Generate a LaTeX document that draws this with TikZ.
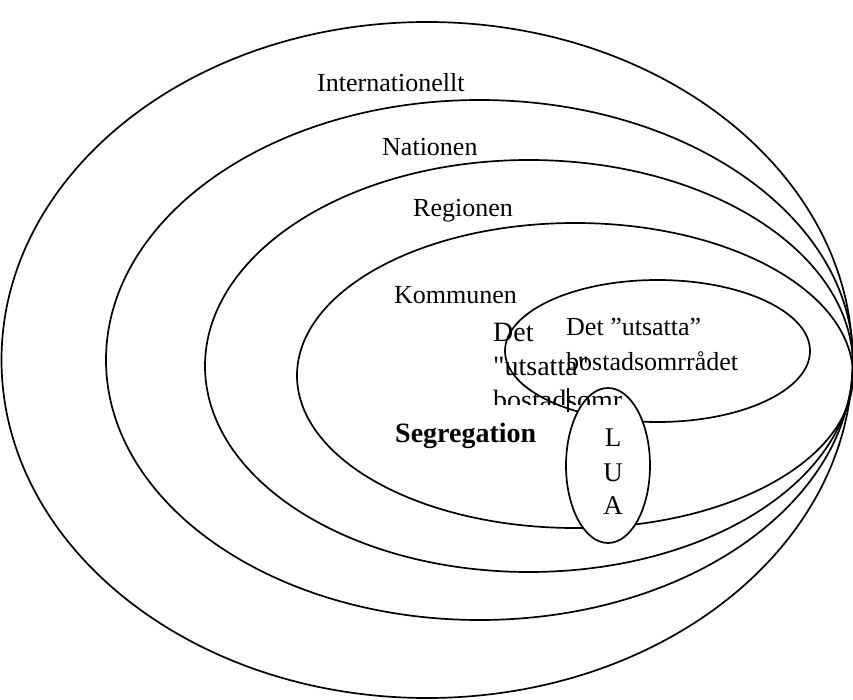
\documentclass[tikz,border=0pt]{standalone}
\usepackage{fontspec}
\setmainfont{Liberation Serif}
\newfontfamily\ovfont{Liberation Serif}[Ligatures=TeXOff]
\begin{document}
\begin{tikzpicture}[x=1pt,y=-1pt,
  ring/.style={draw=black,line width=1.7pt},
  lbl/.style={inner sep=0pt,anchor=base west,font=\fontsize{26}{30}\selectfont},
  lblb/.style={inner sep=0pt,anchor=base west,font=\fontsize{28}{32}\selectfont\bfseries},
  lbll/.style={inner sep=0pt,anchor=base,font=\fontsize{27}{30}\selectfont},
  lblo/.style={inner sep=0pt,anchor=base west,font=\ovfont\fontsize{28}{32}\selectfont}]
\useasboundingbox (0,0) rectangle (853,700);
% rings
\draw[ring] (427,360) ellipse [x radius=425.5pt, y radius=338pt];
\draw[ring] (479.5,360) ellipse [x radius=373.5pt, y radius=260pt];
\draw[ring] (529,366) ellipse [x radius=324pt, y radius=206pt];
\draw[ring] (575,375.5) ellipse [x radius=278pt, y radius=152.5pt];
\draw[ring] (657.5,351) ellipse [x radius=152.5pt, y radius=71pt];
\draw[ring,fill=white] (608,465.5) ellipse [x radius=42pt, y radius=77.5pt];
% labels
\node[lbl] (intl) at (317,92) {Internationellt};
\node[lbl] (nat) at (382,156) {Nationen};
\node[lbl] (reg) at (413,217) {Regionen};
\node[lbl] (kom) at (394,303) {Kommunen};
\node[lblb] (seg) at (395,442) {Segregation};
\node[lbl] (ut1) at (566,335) {Det ”utsatta”};
\node[lbl] (ut2) at (566,370) {bostadsomrrådet};
% overlapping clipped text box
\node[lblo] (ov1) at (493,341) {Det};
\node[lblo] (ov2) at (493,375) {"utsatta"};
\begin{scope}
\clip (480,380) rectangle (660,404);
\node[lblo] (ov3) at (493,409) {bostadsomr};
\end{scope}
\draw[line width=1.2pt] (568,388) -- (568,412);
% LUA
\node[lbll] (l) at (613,446) {L};
\node[lbll] (u) at (613,481) {U};
\node[lbll] (a) at (613,514) {A};
\end{tikzpicture}
\end{document}
